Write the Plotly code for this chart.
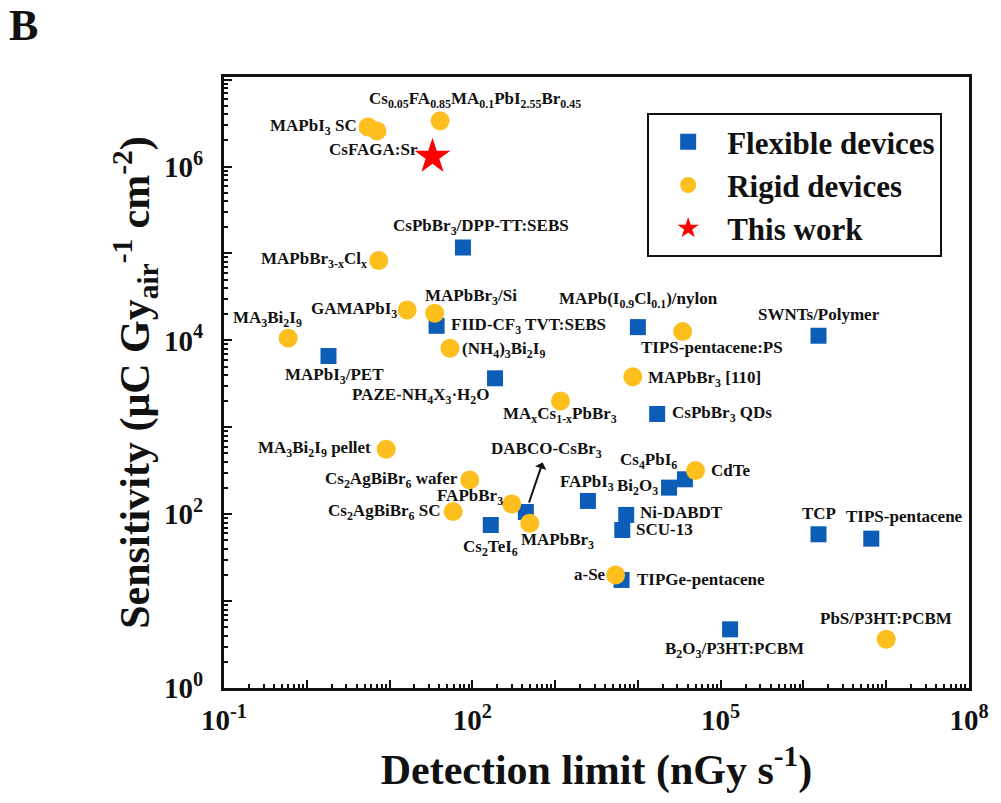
import math
import plotly.graph_objects as go

# ---- data: detection limit (nGy/s) and sensitivity (uC Gy_air^-1 cm^-2) ----
flex_names = [
    "CsPbBr<sub>3</sub>/DPP-TT:SEBS", "FIID-CF<sub>3</sub> TVT:SEBS", "MAPbI<sub>3</sub>/PET",
    "PAZE-NH<sub>4</sub>X<sub>3</sub>·H<sub>2</sub>O", "DABCO-CsBr<sub>3</sub>", "Cs<sub>2</sub>TeI<sub>6</sub>",
    "MAPb(I<sub>0.9</sub>Cl<sub>0.1</sub>)/nylon", "SWNTs/Polymer", "CsPbBr<sub>3</sub> QDs",
    "Cs<sub>4</sub>PbI<sub>6</sub>", "Bi<sub>2</sub>O<sub>3</sub>", "FAPbI<sub>3</sub>", "Ni-DABDT",
    "SCU-13", "TCP", "TIPS-pentacene", "TIPGe-pentacene", "B<sub>2</sub>O<sub>3</sub>/P3HT:PCBM",
]
flex_x = [77, 37, 1.83, 188, 443, 167, 1.0e4, 1.52e6, 1.71e4,
          3.7e4, 2.38e4, 2490, 7230, 6480, 1.52e6, 6.6e6, 6350, 1.3e5]
flex_y = [1.17e5, 1.47e4, 6.6e3, 3.66e3, 106, 75, 1.42e4, 1.13e4, 1.42e3,
          252, 202, 142, 98, 65.8, 58.7, 52.3, 17.5, 4.73]

rigid_names = [
    "MAPbI<sub>3</sub> SC", "", "Cs<sub>0.05</sub>FA<sub>0.85</sub>MA<sub>0.1</sub>PbI<sub>2.55</sub>Br<sub>0.45</sub>",
    "MAPbBr<sub>3-x</sub>Cl<sub>x</sub>", "GAMAPbI<sub>3</sub>", "MAPbBr<sub>3</sub>/Si",
    "MA<sub>3</sub>Bi<sub>2</sub>I<sub>9</sub>", "(NH<sub>4</sub>)<sub>3</sub>Bi<sub>2</sub>I<sub>9</sub>",
    "MA<sub>x</sub>Cs<sub>1-x</sub>PbBr<sub>3</sub>", "MA<sub>3</sub>Bi<sub>2</sub>I<sub>9</sub> pellet",
    "Cs<sub>2</sub>AgBiBr<sub>6</sub> wafer", "FAPbBr<sub>3</sub>", "Cs<sub>2</sub>AgBiBr<sub>6</sub> SC",
    "MAPbBr<sub>3</sub>", "TIPS-pentacene:PS", "MAPbBr<sub>3</sub> [110]", "CdTe", "a-Se",
    "PbS/P3HT:PCBM",
]
rigid_x = [5.5, 7.05, 40.8, 7.4, 16.3, 35.1, 0.596, 53.6, 1160, 9.1,
           93, 299, 58.7, 494, 3.47e4, 8670, 4.97e4, 5380, 1.0e7]
rigid_y = [2.85e6, 2.57e6, 3.37e6, 8.3e4, 2.24e4, 2.05e4, 1.06e4, 8.1e3, 2.01e3, 558,
           248, 131, 107, 78.6, 1.26e4, 3.82e3, 317, 20, 3.63]

work_name = "CsFAGA:Sr"
work_x = [33]
work_y = [1.3e6]

x_tick_vals = [1e-1, 1e2, 1e5, 1e8]
x_tick_text = ["10<sup>-1</sup>", "10<sup>2</sup>", "10<sup>5</sup>", "10<sup>8</sup>"]
y_tick_vals = [1e0, 1e2, 1e4, 1e6]
y_tick_text = ["10<sup>0</sup>", "10<sup>2</sup>", "10<sup>4</sup>", "10<sup>6</sup>"]

# ---- label placement: (xanchor, xshift px, yshift px) ----
label_pos = {
    "CsPbBr<sub>3</sub>/DPP-TT:SEBS": ("center", 18, 21),
    "FIID-CF<sub>3</sub> TVT:SEBS": ("left", 12, 0),
    "MAPbI<sub>3</sub>/PET": ("center", 6, -20),
    "PAZE-NH<sub>4</sub>X<sub>3</sub>·H<sub>2</sub>O": ("right", -3, -18),
    "Cs<sub>2</sub>TeI<sub>6</sub>": ("center", 0, -23),
    "MAPb(I<sub>0.9</sub>Cl<sub>0.1</sub>)/nylon": ("center", 1, 27),
    "SWNTs/Polymer": ("center", 0, 21),
    "CsPbBr<sub>3</sub> QDs": ("left", 13, 0),
    "Cs<sub>4</sub>PbI<sub>6</sub>": ("right", -6, 18),
    "Bi<sub>2</sub>O<sub>3</sub>": ("right", -9, 1),
    "FAPbI<sub>3</sub>": ("center", -1, 18),
    "Ni-DABDT": ("left", 12, 2),
    "SCU-13": ("left", 12, 0),
    "TCP": ("center", 0, 21),
    "TIPS-pentacene": ("center", 33, 22),
    "TIPGe-pentacene": ("left", 13, 0),
    "B<sub>2</sub>O<sub>3</sub>/P3HT:PCBM": ("center", 4, -21),
    "MAPbI<sub>3</sub> SC": ("right", -9, 0),
    "Cs<sub>0.05</sub>FA<sub>0.85</sub>MA<sub>0.1</sub>PbI<sub>2.55</sub>Br<sub>0.45</sub>": ("left", -73, 21),
    "MAPbBr<sub>3-x</sub>Cl<sub>x</sub>": ("right", -10, 0),
    "GAMAPbI<sub>3</sub>": ("right", -8, 0),
    "MAPbBr<sub>3</sub>/Si": ("left", -12, 16),
    "MA<sub>3</sub>Bi<sub>2</sub>I<sub>9</sub>": ("center", -21, 19),
    "(NH<sub>4</sub>)<sub>3</sub>Bi<sub>2</sub>I<sub>9</sub>": ("left", 10, -2),
    "MA<sub>x</sub>Cs<sub>1-x</sub>PbBr<sub>3</sub>": ("center", 0, -14),
    "MA<sub>3</sub>Bi<sub>2</sub>I<sub>9</sub> pellet": ("right", -13, 0),
    "Cs<sub>2</sub>AgBiBr<sub>6</sub> wafer": ("right", -10, 0),
    "FAPbBr<sub>3</sub>": ("right", -7, 7),
    "Cs<sub>2</sub>AgBiBr<sub>6</sub> SC": ("right", -10, 0),
    "MAPbBr<sub>3</sub>": ("center", 28, -18),
    "TIPS-pentacene:PS": ("center", 29, -16),
    "MAPbBr<sub>3</sub> [110]": ("left", 13, -2),
    "CdTe": ("left", 13, 0),
    "a-Se": ("right", -8, 0),
    "PbS/P3HT:PCBM": ("center", 0, 21),
    "CsFAGA:Sr": ("right", -12, 7),
}

FONT = "Liberation Serif, Times New Roman, serif"
INK = "#111111"
BLUE = "#0B5DB8"
YELLOW = "#FDBF1E"
RED = "#FF0000"
LABEL_SIZE = 17

fig = go.Figure()
fig.add_trace(go.Scatter(
    x=flex_x, y=flex_y, mode="markers", name="Flexible devices",
    marker=dict(symbol="square", size=16, color=BLUE),
))
fig.add_trace(go.Scatter(
    x=rigid_x, y=rigid_y, mode="markers", name="Rigid devices",
    marker=dict(symbol="circle", size=19, color=YELLOW),
))
fig.add_trace(go.Scatter(
    x=work_x, y=work_y, mode="markers", name="This work",
    marker=dict(symbol="star", size=27, color=RED),
))

annotations = []


def add_labels(names, xs, ys):
    for n, xv, yv in zip(names, xs, ys):
        if not n or n.startswith("DABCO"):
            continue
        anchor, dx, dy = label_pos[n]
        annotations.append(dict(
            x=math.log10(xv), y=math.log10(yv), xref="x", yref="y",
            text=n, showarrow=False, xanchor=anchor, yanchor="middle",
            xshift=dx, yshift=dy,
            font=dict(family=FONT, size=LABEL_SIZE, color=INK, weight="bold"),
        ))


add_labels(flex_names, flex_x, flex_y)
add_labels(rigid_names, rigid_x, rigid_y)
add_labels([work_name], work_x, work_y)

# DABCO-CsBr3 label, joined to its marker by an arrow pointing at the text
i = flex_names.index("DABCO-CsBr<sub>3</sub>")
annotations.append(dict(
    x=math.log10(flex_x[i]), y=math.log10(flex_y[i]), xref="x", yref="y",
    text=flex_names[i], showarrow=True, ax=21, ay=-62,
    arrowside="start", arrowhead=2, arrowsize=1.2, arrowwidth=2, arrowcolor=INK,
    standoff=10, startstandoff=0,
    font=dict(family=FONT, size=LABEL_SIZE, color=INK, weight="bold"),
))

# panel letter
annotations.append(dict(
    x=-0.291, y=1.128, xref="paper", yref="paper", text="B", showarrow=False,
    xanchor="left", yanchor="top",
    font=dict(family=FONT, size=44, color=INK, weight="bold"),
))

# ticks at every decade; only every second/third decade is labelled
x_decades = [10 ** k for k in range(-1, 9)]
y_decades = [10 ** k for k in range(0, 8)]
x_decade_text = [x_tick_text[x_tick_vals.index(v)] if v in x_tick_vals else "" for v in x_decades]
y_decade_text = [y_tick_text[y_tick_vals.index(v)] if v in y_tick_vals else "" for v in y_decades]
x_minor = [m * 10 ** k for k in range(-1, 8) for m in range(2, 10)]
y_minor = [m * 10 ** k for k in range(0, 7) for m in range(2, 10)]

tick_font = dict(family=FONT, size=29, color=INK, weight="bold")
title_font = dict(family=FONT, size=42, color=INK, weight="bold")
frame = dict(
    type="log", showline=True, linewidth=3, linecolor=INK, mirror=True,
    showgrid=False, zeroline=False, ticks="inside", ticklen=8, tickwidth=2,
    tickcolor=INK, tickfont=tick_font,
)

fig.update_layout(
    width=1001, height=803,
    margin=dict(l=224, r=24, t=77, b=115),
    paper_bgcolor="white", plot_bgcolor="white",
    xaxis=dict(
        range=[-1, 8], tickvals=x_decades, ticktext=x_decade_text,
        minor=dict(tickvals=x_minor, ticks="inside", ticklen=4, tickwidth=1.5, tickcolor=INK),
        ticklabelstandoff=4,
        title=dict(text="Detection limit (nGy s<sup>-1</sup>)", standoff=20, font=title_font),
        **frame,
    ),
    yaxis=dict(
        range=[0, 7.03], tickvals=y_decades, ticktext=y_decade_text,
        minor=dict(tickvals=y_minor, ticks="inside", ticklen=4, tickwidth=1.5, tickcolor=INK),
        ticklabelstandoff=12,
        title=dict(text="Sensitivity (μC Gy<sub>air</sub><sup>-1</sup> cm<sup>-2</sup>)",
                   standoff=0, font=title_font),
        **frame,
    ),
    legend=dict(
        x=0.568, y=0.941, xanchor="left", yanchor="top",
        bgcolor="white", bordercolor=INK, borderwidth=2,
        font=dict(family=FONT, size=31, color=INK, weight="bold"),
        itemsizing="trace", itemwidth=68, tracegroupgap=0,
    ),
    annotations=annotations,
)

fig.write_html("out.html")
